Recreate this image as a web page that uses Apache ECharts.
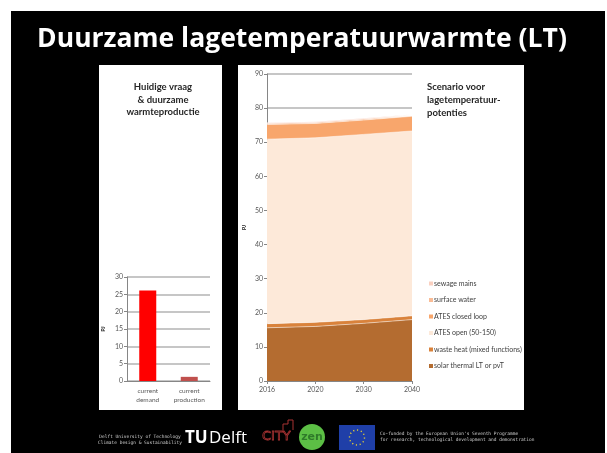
<!DOCTYPE html>
<html>
<head>
<meta charset="utf-8">
<script src="https://cdn.jsdelivr.net/npm/echarts@6/dist/echarts.min.js"></script>
<style>
  html, body { margin: 0; padding: 0; background: #fff; }
  #main { width: 607px; height: 453px; }
</style>
</head>
<body>
<div id="main"></div>
<script>
// huidige vraag & productie (PJ)
const nowCategories = ['current\ndemand', 'current\nproduction'];
const nowValues = [26.1, 1.2];

// scenario lagetemperatuur-potenties (PJ, gestapeld)
const years = ['2016', '2020', '2030', '2040'];
const solarThermal = [15.6, 16.0, 16.9, 18.0];
const wasteHeat = [1.2, 1.2, 1.1, 1.1];
const atesOpen = [54.1, 54.1, 54.3, 54.2];
const atesClosed = [4.3, 4.2, 4.2, 4.3];
const surfaceWater = [0.3, 0.3, 0.3, 0.3];
const sewageMains = [0.2, 0.2, 0.2, 0.2];

const font = 'Lato, "Open Sans", sans-serif';
const grey = '#595959';

let myChart = echarts.init(document.getElementById('main'));

function area(name, data, color) {
    return {
        name: name,
        type: 'line',
        stack: 'lt',
        xAxisIndex: 1,
        yAxisIndex: 1,
        data: data,
        symbol: 'none',
        itemStyle: { color: color },
        lineStyle: { width: 0.8, color: 'rgba(255,255,255,0.6)' },
        areaStyle: { color: color, opacity: 1 }
    };
}

const option = {
    backgroundColor: '#fff',
    animation: false,
    textStyle: { fontFamily: font },
    title: [
        {
            text: 'Huidige vraag\n& duurzame\nwarmteproductie',
            left: 158, top: 76, textAlign: 'center',
            textStyle: { fontSize: 9.5, fontWeight: 'bold', color: '#262626', lineHeight: 12.5, fontFamily: font }
        },
        {
            text: 'Scenario voor\nlagetemperatuur-\npotenties',
            left: 422, top: 75,
            textStyle: { fontSize: 9.5, fontWeight: 'bold', color: '#262626', lineHeight: 13, fontFamily: font }
        }
    ],
    legend: {
        orient: 'vertical',
        left: 424, top: 275,
        itemWidth: 4, itemHeight: 4, itemGap: 9.5,
        icon: 'rect',
        textStyle: { fontSize: 7, color: '#404040', padding: [0, 0, 0, -4] },
        data: ['sewage mains', 'surface water', 'ATES closed loop', 'ATES open (50-150)', 'waste heat (mixed functions)', 'solar thermal LT or pvT']
    },
    grid: [
        { left: 127, top: 277, width: 83, height: 104 },
        { left: 267, top: 74, width: 145, height: 307 }
    ],
    xAxis: [
        {
            type: 'category', gridIndex: 0, data: nowCategories,
            axisLine: { lineStyle: { color: '#868686' } },
            axisTick: { length: 3, lineStyle: { color: '#868686' } },
            axisLabel: { fontSize: 6.5, color: grey, lineHeight: 9, margin: 5 }
        },
        {
            type: 'category', gridIndex: 1, data: years, boundaryGap: false,
            axisLine: { lineStyle: { color: '#868686' } },
            axisTick: { length: 3, lineStyle: { color: '#868686' } },
            axisLabel: { fontSize: 7, color: grey, margin: 5 }
        }
    ],
    yAxis: [
        {
            type: 'value', gridIndex: 0, min: 0, max: 30, interval: 5,
            name: 'PJ', nameLocation: 'middle', nameGap: 21, nameRotate: 90,
            nameTextStyle: { fontSize: 5.5, fontWeight: 'bold', color: '#262626' },
            axisLine: { show: true, lineStyle: { color: '#868686' } },
            axisTick: { show: true, length: 3, lineStyle: { color: '#868686' } },
            axisLabel: { fontSize: 7, color: grey, margin: 4 },
            splitLine: { lineStyle: { color: '#b3b3b3', width: 1.5 } }
        },
        {
            type: 'value', gridIndex: 1, min: 0, max: 90, interval: 10,
            name: 'PJ', nameLocation: 'middle', nameGap: 20, nameRotate: 90,
            nameTextStyle: { fontSize: 5.5, fontWeight: 'bold', color: '#262626' },
            axisLine: { show: true, lineStyle: { color: '#868686' } },
            axisTick: { show: true, length: 3, lineStyle: { color: '#868686' } },
            axisLabel: { fontSize: 7, color: grey, margin: 4 },
            splitLine: { lineStyle: { color: '#b3b3b3', width: 1.5 } }
        }
    ],
    series: [
        {
            type: 'bar', xAxisIndex: 0, yAxisIndex: 0, barWidth: 17,
            data: [
                { value: nowValues[0], itemStyle: { color: '#ff0000' } },
                { value: nowValues[1], itemStyle: { color: '#c0504d' } }
            ]
        },
        area('solar thermal LT or pvT', solarThermal, '#b46c30'),
        area('waste heat (mixed functions)', wasteHeat, '#d9823b'),
        area('ATES open (50-150)', atesOpen, '#fde9d9'),
        area('ATES closed loop', atesClosed, '#f8a66c'),
        area('surface water', surfaceWater, '#f9bc96'),
        area('sewage mains', sewageMains, '#fad0c0')
    ],
    graphic: [
        // dia-achtergrond
        { type: 'rect', z: -10, shape: { x: 11, y: 11, width: 594, height: 442 }, style: { fill: '#000' } },
        { type: 'rect', z: -9, shape: { x: 99, y: 65, width: 123, height: 345 }, style: { fill: '#fff' } },
        { type: 'rect', z: -9, shape: { x: 238, y: 65, width: 286, height: 345 }, style: { fill: '#fff' } },
        {
            type: 'text', x: 302, y: 39,
            style: {
                text: 'Duurzame lagetemperatuurwarmte (LT)', fill: '#fff',
                font: 'bold 26.5px "Open Sans", sans-serif', textAlign: 'center', textVerticalAlign: 'middle'
            }
        },
        // voettekst
        {
            type: 'text', x: 140, y: 440,
            style: {
                text: 'Delft University of Technology\nClimate Design & Sustainability', fill: '#cfcfcf',
                font: '4.5px "DejaVu Sans Mono", monospace', textAlign: 'center', textVerticalAlign: 'middle', lineHeight: 6
            }
        },
        {
            type: 'text', x: 185, y: 438,
            style: { text: 'TU', fill: '#fff', font: 'bold 17px "Open Sans", sans-serif', textVerticalAlign: 'middle' }
        },
        {
            type: 'text', x: 209, y: 438,
            style: { text: 'Delft', fill: '#fff', font: '17px "Open Sans", sans-serif', textVerticalAlign: 'middle' }
        },
        {
            type: 'text', x: 262, y: 437,
            style: { text: 'CITY', fill: 'none', stroke: '#a83232', lineWidth: 0.8, font: '13px "DejaVu Sans", sans-serif', textVerticalAlign: 'middle' }
        },
        { type: 'polyline', shape: { points: [[283, 430], [283, 424], [288, 424], [288, 420], [293, 420], [293, 430]] }, style: { stroke: '#a83232', fill: 'none', lineWidth: 1 } },
        { type: 'circle', shape: { cx: 312, cy: 437, r: 13 }, style: { fill: '#5cbf45' } },
        {
            type: 'text', x: 312, y: 437,
            style: { text: 'zen', fill: '#2f7a2a', font: 'bold 11px "DejaVu Sans", sans-serif', textAlign: 'center', textVerticalAlign: 'middle' }
        },
        { type: 'rect', shape: { x: 339, y: 425, width: 36, height: 25 }, style: { fill: '#1f3fa8' } },
        { type: 'circle', shape: { cx: 357, cy: 437.5, r: 7.5 }, style: { fill: 'none', stroke: '#e8d233', lineWidth: 1.4, lineDash: [1.2, 2.7] } },
        {
            type: 'text', x: 380, y: 437,
            style: {
                text: "Co-funded by the European Union's Seventh Programme\nfor research, technological development and demonstration", fill: '#cfcfcf',
                font: '4.5px "DejaVu Sans Mono", monospace', textVerticalAlign: 'middle', lineHeight: 6
            }
        }
    ]
};

myChart.setOption(option);
</script>
</body>
</html>
